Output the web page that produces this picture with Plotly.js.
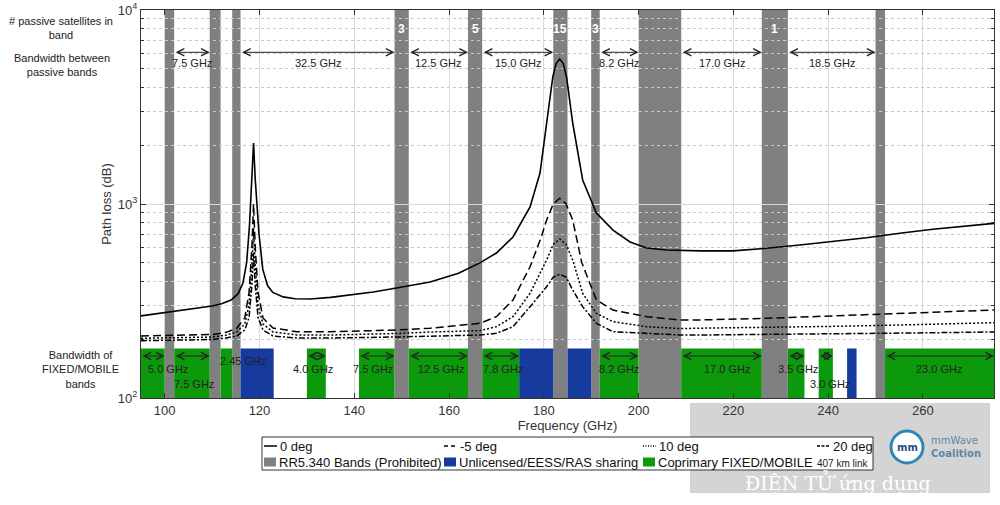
<!DOCTYPE html>
<html><head><meta charset="utf-8">
<script src="https://cdn.plot.ly/plotly-3.0.1.min.js"></script>
<style>html,body{margin:0;padding:0;background:#fff}#chart{width:1000px;height:505px}</style>
</head><body><div id="chart"></div>
<script>
// ---------- data ----------
const freq0 = [95,100,105,110,112,114,115.5,116.5,117.3,117.9,118.35,118.75,119.1,119.4,119.9,120.7,121.7,122.8,125,127.5,130.7,135,139.1,144,148.9,156,162,166.5,170,173.5,177.1,179.2,180.6,181.9,182.6,183.35,184.1,184.8,186.1,188.2,191.1,194.6,198.2,201.7,205.9,213,219.9,227,234,241,248.1,255.1,262.1,275];
const loss0 = [265,275,286,298,306,320,345,390,500,780,1300,2061,1350,1050,700,460,380,350,332,325,324,330,339,352,369,396,440,497,559,676,966,1445,2615,4518,5300,5585,5300,4518,2615,1330,899,734,637,593,579,573,573,591,615,640,670,706,741,795];

const freqM5 = [95,105,110.2,113,115.2,116.9,117.8,118.4,118.75,119.1,119.7,120.74,122.85,127.85,134.9,148.9,156,166.5,170,173.5,177.1,179.5,180.6,182,183.35,184.7,186.1,188,191.1,194.6,201.7,208.7,212.9,227,241,255.1,275];
const lossM5 = [208.7,210.5,212.5,218,228.8,258.5,350,600,1000,600,350,258.5,229.6,219.7,219.7,224.1,228.8,242.7,262.5,320,475,680,827,1000,1070,1000,827,500,320,284,262.5,252.4,252.4,257.5,264.7,273.3,284.2];

const freq10 = [95,105,110.2,113,115.2,116.9,117.8,118.4,118.75,119.1,119.7,120.74,122.85,127.85,134.9,148.9,156,166.5,170,173.5,177.1,180.6,182,183.35,184.7,186.1,188.2,191.1,194.6,201.7,208.7,212.9,227,241,255.1,275];
const loss10 = [203.1,204.5,206.3,211,218.9,240.7,300,480,750,480,300,240.7,218.9,211.2,211.2,215,218.9,222.3,233.2,262.5,346.5,514.5,620,660,620,514.5,346.5,273.3,247.4,233.2,228,229,231,234,237.8,244.5];

const freq20 = [95,105,110.2,113,115.2,116.9,117.8,118.4,118.75,119.1,119.7,120.74,122.85,127.85,134.9,148.9,156,166.5,170,173.5,177.1,180.6,182,183.35,184.7,186.1,188.2,191.1,194.6,201.7,208.7,212.9,227,241,255.1,275];
const loss20 = [197.4,198.8,200.3,204,208.7,224.1,260,380,560,380,260,224.1,208.7,203.8,203.8,206.3,208.7,211.2,215.5,233.2,295.6,374.8,420,434.2,420,360.4,295.6,242.7,219.7,215.5,211.2,211.2,212.5,214.5,216,219];

const seriesNames = ['0 deg','-5 deg','10 deg','20 deg'];
const bandNames = ['RR5.340 Bands (Prohibited)','Unlicensed/EESS/RAS sharing','Coprimary FIXED/MOBILE'];

// RR5.340 passive bands (GHz)
const passiveStart = [100,109.5,114.25,148.5,164,182,190,200,226,250];
const passiveEnd   = [102,111.8,116,151.5,167,185,191.8,209,231.5,252];
const passiveSats  = ['','','','3','5','15','3','','1',''];

// bandwidth between passive bands (top arrows)
const gapStart = [102,116,151.5,167,191.8,209,231.5];
const gapEnd   = [109.5,148.5,164,182,200,226,250];
const gapLabel = ['7.5 GHz','32.5 GHz','12.5 GHz','15.0 GHz','8.2 GHz','17.0 GHz','18.5 GHz'];

// co-primary FIXED/MOBILE bands
const fixedStart = [95,102,111.8,130,141,151.5,167,191.8,209,231.5,238,252];
const fixedEnd   = [100,109.5,114.25,134,148.5,164,174.8,200,226,235,241,275];
const fixedLabel = ['5.0 GHz','7.5 GHz','2.45 GHz','4.0 GHz','7.5 GHz','12.5 GHz','7.8 GHz','8.2 GHz','17.0 GHz','3.5 GHz','3.0 GHz','23.0 GHz'];

// unlicensed / EESS / RAS sharing bands
const sharedStart = [116,174.8,185,244];
const sharedEnd   = [123,182,190,246];

const xTicks = [100,120,140,160,180,200,220,240,260];
const yTicks = [100,1000,10000];
const yTickText = ['10<sup>2</sup>','10<sup>3</sup>','10<sup>4</sup>'];

// ---------- layout settings (not data) ----------
const GREY = '#808080', GREEN = '#0c9a0c', BLUE = '#173a9e';
const FONT = 'Liberation Sans, Arial, sans-serif';
const bandTop = 180;
const fixedLabelX = [100.6,106.2,116.6,131.3,144,158.4,171.4,195.9,218.6,233.7,240.4,263.4];
const fixedLabelRow = [0,1,-1,0,0,0,0,0,0,0,1,0];
const fixedArrow = [1,1,0,1,1,1,1,1,1,1,1,1];

const L = 141, R = 994, T = 10, B = 398;
const px = v=>(v-L)/(R-L), py = v=>(B-v)/(B-T);

const shapes = [];
const annotations = [];
function note(x,y,text,font,xa,extra){
  return Object.assign({xref:'paper',yref:'paper',x:px(x),y:py(y),text:text,showarrow:false,font:font,
    xanchor:xa||'center',yanchor:'middle'},extra||{});
}

fixedStart.forEach((s,i)=>shapes.push({type:'rect',xref:'x',yref:'y',x0:s,x1:fixedEnd[i],y0:100,y1:bandTop,
  fillcolor:GREEN,line:{width:0},layer:'between'}));
sharedStart.forEach((s,i)=>shapes.push({type:'rect',xref:'x',yref:'y',x0:s,x1:sharedEnd[i],y0:100,y1:bandTop,
  fillcolor:BLUE,line:{width:0},layer:'between'}));
passiveStart.forEach((s,i)=>shapes.push({type:'rect',xref:'x',yref:'paper',x0:s,x1:passiveEnd[i],y0:0,y1:1,
  fillcolor:GREY,line:{width:0},layer:'between'}));

// watermark block (below the plot)
shapes.push({type:'rect',xref:'paper',yref:'paper',x0:px(690),x1:px(990),y0:py(403),y1:py(493),
  fillcolor:'#d4d4d4',line:{width:0},layer:'below'});

function arrow(x0,x1,ylog){
  return {xref:'x',yref:'y',axref:'x',ayref:'y',x:x1,y:ylog,ax:x0,ay:ylog,text:'',showarrow:true,
    arrowhead:5,startarrowhead:5,arrowside:'end+start',arrowsize:1.4,startarrowsize:1.4,arrowwidth:1,arrowcolor:'#222',standoff:0,startstandoff:0};
}
const labFont = {family:FONT,size:11,color:'#222'};

passiveSats.forEach((t,i)=>{ if(t) annotations.push({xref:'x',yref:'y',x:(passiveStart[i]+passiveEnd[i])/2,y:3.902,text:'<b>'+t+'</b>',
  showarrow:false,xanchor:'center',yanchor:'middle',font:{family:FONT,size:12,color:'#fff'}}); });
gapStart.forEach((s,i)=>{
  annotations.push(arrow(s,gapEnd[i],3.782));
  annotations.push({xref:'x',yref:'y',x:(s+gapEnd[i])/2,y:3.727,text:gapLabel[i],showarrow:false,xanchor:'center',yanchor:'middle',font:labFont});
});
fixedStart.forEach((s,i)=>{
  if(fixedArrow[i]) annotations.push(arrow(s,fixedEnd[i],2.2165));
  const yl = fixedLabelRow[i]===1 ? 2.072 : (fixedLabelRow[i]===-1 ? 2.19 : 2.147);
  annotations.push({xref:'x',yref:'y',x:fixedLabelX[i],y:yl,text:fixedLabel[i],showarrow:false,xanchor:'center',yanchor:'middle',font:labFont});
});

// left side captions
const capFont = {family:FONT,size:11,color:'#222'};
annotations.push(note(61,28,'# passive satellites in<br>band',capFont,'center',{align:'center'}));
annotations.push(note(62,65,'Bandwidth between<br>passive bands',capFont,'center',{align:'center'}));
annotations.push(note(80,369.5,'Bandwidth of<br>FIXED/MOBILE<br>bands',capFont,'center',{align:'center'}));

// ---------- legend (boxed key) ----------
shapes.push({type:'rect',xref:'paper',yref:'paper',x0:px(262),x1:px(873),y0:py(437),y1:py(470),
  fillcolor:'#fff',line:{color:'#333',width:1},layer:'above'});
const legCols = [264,444,643,817];
const legDash = ['solid','4px,3px','1px,1.5px','3px,1.5px'];
const legFont = {family:FONT,size:13,color:'#111'};
seriesNames.forEach((n,i)=>{
  const x0 = legCols[i];
  shapes.push({type:'line',xref:'paper',yref:'paper',x0:px(x0),x1:px(x0+13),y0:py(446),y1:py(446),
    line:{color:'#000',width:1.5,dash:legDash[i]},layer:'above'});
  annotations.push(note(x0+14,446,n,legFont,'left'));
});
[GREY,BLUE,GREEN].forEach((c,i)=>{
  const x0 = legCols[i];
  shapes.push({type:'rect',xref:'paper',yref:'paper',x0:px(x0),x1:px(x0+12),y0:py(457.5),y1:py(466.5),
    fillcolor:c,line:{width:0},layer:'above'});
  annotations.push(note(x0+13,462,bandNames[i],legFont,'left'));
});
annotations.push(note(871,463,'407 km link',{family:FONT,size:10,color:'#222'},'right'));

// watermark text & logo
annotations.push(note(838,482,'ĐIỆN TỬ ứng dụng',{family:'DejaVu Serif, serif',size:19,color:'#ffffff'},'center'));
shapes.push({type:'circle',xref:'paper',yref:'paper',x0:px(891),x1:px(923),y0:py(431),y1:py(463),
  line:{color:'#2f86b8',width:3},fillcolor:'#ffffff',layer:'above'});
annotations.push(note(907,447,'<b>mm</b>',{family:'DejaVu Sans, sans-serif',size:10,color:'#1f4f86'},'center'));
annotations.push(note(929,447,'mmWave<br><b>Coalition</b>',{family:'DejaVu Sans, sans-serif',size:10,color:'#5c87aa'},'left',{align:'left'}));

const lineTr = (x,y,name,dash,w)=>({type:'scatter',mode:'lines',x:x,y:y,name:name,
  line:{color:'#000',width:w,dash:dash},showlegend:false});

const data = [
  lineTr(freq0,loss0,seriesNames[0],'solid',1.6),
  lineTr(freqM5,lossM5,seriesNames[1],'8px,4px',1.5),
  lineTr(freq10,loss10,seriesNames[2],'2px,2px',1.5),
  lineTr(freq20,loss20,seriesNames[3],'6px,2px,2px,2px',1.5)
];

const axFont = {family:FONT,size:13,color:'#333'};
const layout = {
  width:1000,height:505,
  margin:{l:L,r:1000-R,t:T,b:505-B},
  paper_bgcolor:'#fff',plot_bgcolor:'#fff',
  font:{family:FONT,color:'#222'},
  showlegend:false,
  xaxis:{range:[95,275],tickvals:xTicks,ticks:'inside',ticklen:5,tickcolor:'#333',showline:true,linecolor:'#333',mirror:'ticks',
    showgrid:true,gridcolor:'#d9d9d9',zeroline:false,tickfont:axFont,automargin:false,
    title:{text:'Frequency (GHz)',font:{size:13,color:'#333'},standoff:4}},
  yaxis:{type:'log',range:[2,4],tickvals:yTicks,ticktext:yTickText,ticks:'inside',ticklen:5,tickcolor:'#333',showline:true,linecolor:'#333',mirror:'ticks',
    showgrid:true,gridcolor:'#d9d9d9',zeroline:false,tickfont:axFont,automargin:false,
    minor:{tickvals:[200,300,400,500,600,700,800,900,2000,3000,4000,5000,6000,7000,8000,9000],ticks:'inside',ticklen:3,tickcolor:'#333',
      showgrid:true,gridcolor:'#c8c8c8',griddash:'dot'},
    title:{text:'Path loss (dB)',font:{size:13,color:'#333'},standoff:3}},
  shapes:shapes,annotations:annotations
};
Plotly.newPlot('chart',data,layout,{displayModeBar:false,staticPlot:true});
</script></body></html>
